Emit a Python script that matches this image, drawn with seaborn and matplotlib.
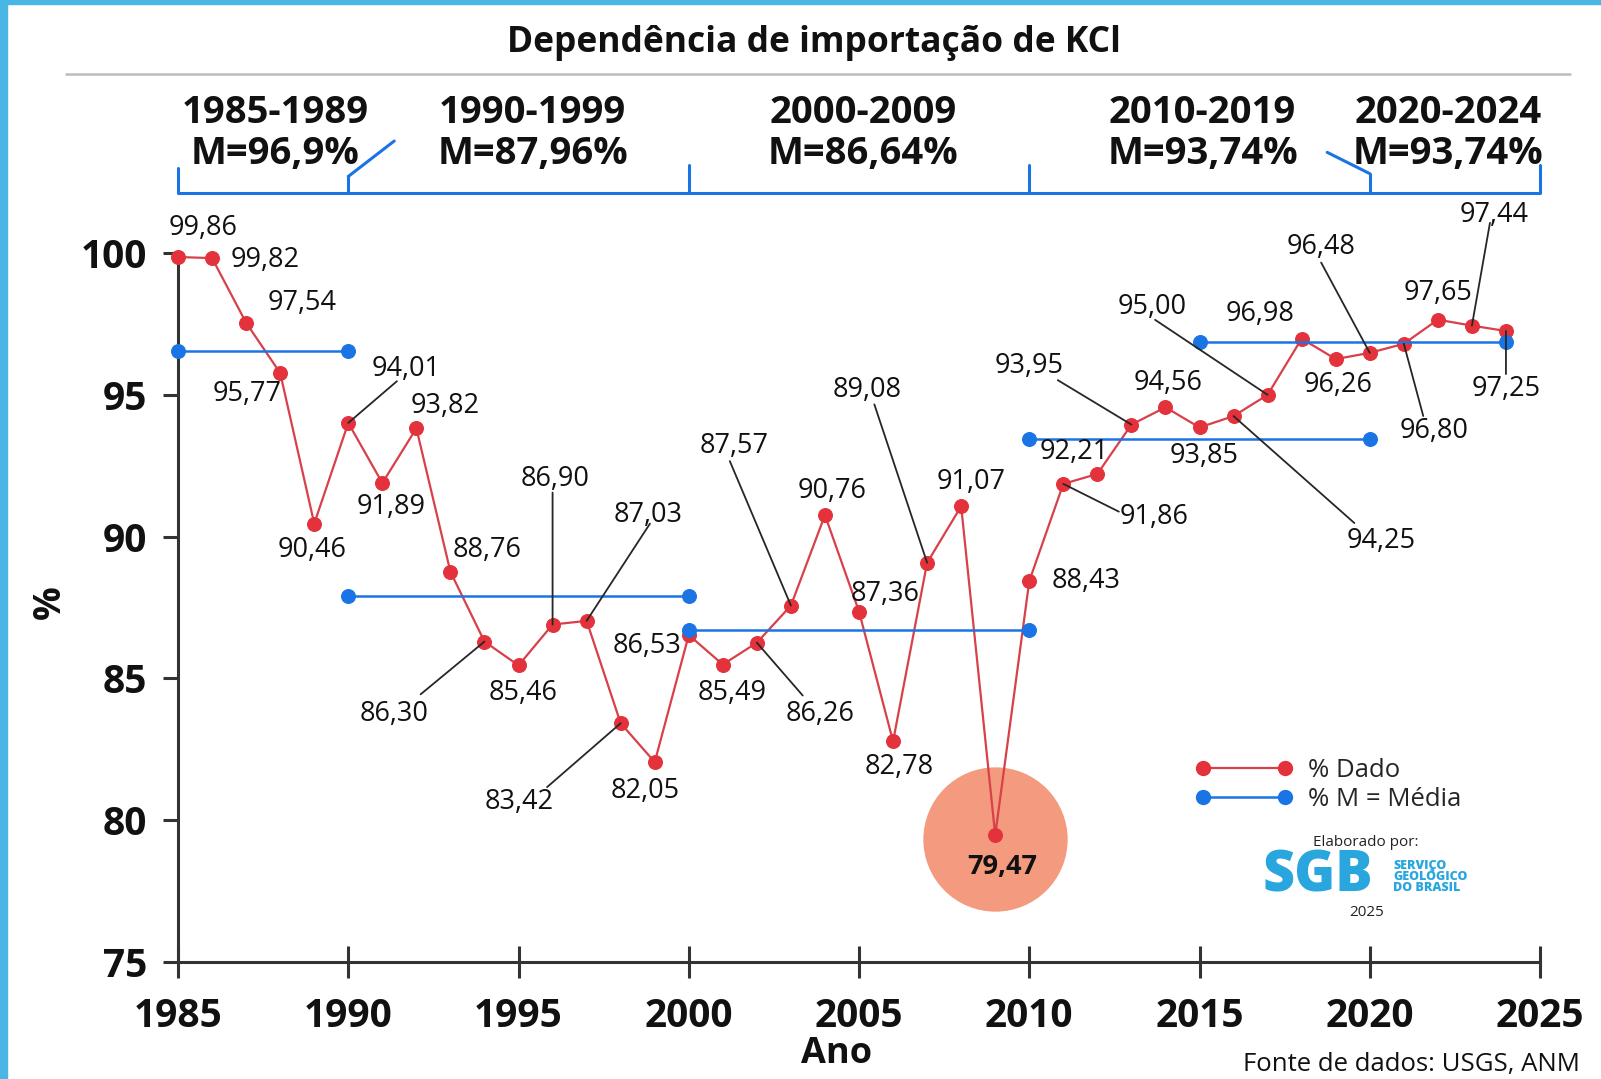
import matplotlib
matplotlib.use("Agg")
import matplotlib.pyplot as plt
from matplotlib.lines import Line2D
import seaborn as sns
import pandas as pd

sns.set_theme(style="white")
plt.rcParams['font.family'] = ['Open Sans', 'DejaVu Sans']

# dados
anos = list(range(1985, 2025))
valores = [99.86, 99.82, 97.54, 95.77, 90.46, 94.01, 91.89, 93.82, 88.76, 86.30,
           85.46, 86.90, 87.03, 83.42, 82.05, 86.53, 85.49, 86.26, 87.57, 90.76,
           87.36, 82.78, 89.08, 91.07, 79.47, 88.43, 91.86, 92.21, 93.95, 94.56,
           93.85, 94.25, 95.00, 96.98, 96.26, 96.48, 96.80, 97.65, 97.44, 97.25]

media_inicio = [1985, 1990, 2000, 2010, 2015]
media_fim = [1990, 2000, 2010, 2020, 2024]
media_valor = [96.55, 87.9, 86.7, 93.45, 96.88]

periodos = ['1985-1989', '1990-1999', '2000-2009', '2010-2019', '2020-2024']
periodos_m = ['M=96,9%', 'M=87,96%', 'M=86,64%', 'M=93,74%', 'M=93,74%']
limites = [1985, 1990, 2000, 2010, 2020, 2025]
desloc = [0.36, 0.42, 0.12, 0.09, -0.21]

destaque_ano = 2009

# posicao dos rotulos (offset em pontos) e fim da linha guia
rot_off = [(18, 21), (38, -1), (40, 14), (-24, -15), (-1.5, -19), (42, 39), (6, -17),
           (20.6, 16), (26.5, 15.4), (-65, -52), (3, -20), (2, 105), (44, 76),
           (-73, -57), (-6.6, -20.6), (-30, -8), (6.6, -20.6), (45.6, -51.5),
           (-41, 115), (5, 17.6), (19, 12.5), (4.4, -18.4), (-43, 124), (7.4, 17.6),
           (5, -23), (41, 0), (65, -23.5), (-17, 16), (-73.5, 42), (2, 17.6),
           (3, -20.6), (106, -90), (-83, 63), (-30, 17.6), (1.5, -18.4), (-35, 76),
           (22, -63), (0, 19), (16, 80), (0, -42)]
guia = {1990: (35, 30), 1994: (-46, -38), 1996: (0, 95), 1997: (45.6, 70),
        1998: (-53, -46), 2002: (33, -38), 2003: (-44, 104), 2007: (-38, 114),
        2011: (40, -20), 2013: (-53, 32), 2016: (87, -77), 2017: (-81, 54),
        2020: (-35, 65), 2021: (14, -52), 2023: (13, 74), 2024: (0, -31)}

vermelho = '#e3323b'
azul = '#1a74e4'
salmao = '#f49a7f'
preto = '#262626'

fig = plt.figure(figsize=(16.01, 10.79), dpi=100)
fig.patch.set_facecolor('white')
ax = fig.add_axes([0.1112, 0.1084, 0.8507, 0.6571])

# moldura azul
fig.patches.append(plt.Rectangle((0, 0), 0.0045, 1, transform=fig.transFigure,
                                 color='#4ab6e6', zorder=0))
fig.patches.append(plt.Rectangle((0, 0.9965), 1, 0.0035, transform=fig.transFigure,
                                 color='#4ab6e6', zorder=0))

# circulo de destaque
i_d = anos.index(destaque_ano)
ax.scatter([destaque_ano], [valores[i_d] - 0.13], s=10800, color=salmao,
           zorder=1, clip_on=False, linewidths=0)

sns.lineplot(x=anos, y=valores, ax=ax, color='#d8404a', lw=1.6, marker='o',
             markersize=10, markerfacecolor=vermelho, markeredgecolor=vermelho,
             zorder=3, clip_on=False)

df_media = pd.DataFrame({
    'ano': media_inicio + media_fim,
    'media': media_valor + media_valor,
    'periodo': list(range(5)) + list(range(5)),
})
sns.lineplot(data=df_media, x='ano', y='media', units='periodo', estimator=None,
             ax=ax, color=azul, lw=1.8, marker='o', markersize=10,
             markeredgecolor=azul, markerfacecolor=azul, zorder=4, clip_on=False)

# rotulos
for ano, v, (dx, dy) in zip(anos, valores, rot_off):
    txt = f"{v:.2f}".replace('.', ',')
    bold = ano == destaque_ano
    ax.annotate(txt, (ano, v), xytext=(dx, dy), textcoords='offset points',
                ha='center', va='center', fontsize=19.5, color='#111111',
                fontweight='bold' if bold else 'normal', zorder=6,
                annotation_clip=False)
    if ano in guia:
        ax.annotate('', (ano, v), xytext=guia[ano], textcoords='offset points',
                    arrowprops=dict(arrowstyle='-', color=preto, lw=1.3,
                                    shrinkA=0, shrinkB=0),
                    zorder=5, annotation_clip=False)

ax.set_xlim(1985, 2025)
ax.set_ylim(75, 100)
ax.set_xticks(range(1985, 2026, 5))
ax.set_yticks(range(75, 101, 5))
for s in ['top', 'right']:
    ax.spines[s].set_visible(False)
for s in ['left', 'bottom']:
    ax.spines[s].set_color('#333333')
    ax.spines[s].set_linewidth(2.2)
ax.tick_params(axis='x', direction='inout', length=23, width=2.2, color='#333333',
               labelsize=28, pad=14, bottom=True)
ax.tick_params(axis='y', direction='out', length=11, width=2.2, color='#333333',
               labelsize=28, pad=11, left=True)
for lb in ax.get_xticklabels() + ax.get_yticklabels():
    lb.set_fontweight('bold')
    lb.set_color('#111111')
ax.set_xlabel('')
ax.set_ylabel('')
ax.grid(False)

fig.text(837 / 1601, 1 - 1054 / 1079, 'Ano', ha='center', va='center',
         fontsize=26, fontweight='bold', color='#111111')
fig.text(50 / 1601, 1 - 602 / 1079, '%', ha='center', va='center', rotation=90,
         fontsize=27, fontweight='bold', color='#111111')

# colchete dos periodos
base = 102.1
alturas = [103.0, 102.7, 103.1, 103.1, 102.8, 103.1]
ax.plot([limites[0], limites[-1]], [base, base], color=azul, lw=2.2, clip_on=False,
        solid_capstyle='butt')
for x, h in zip(limites, alturas):
    ax.plot([x, x], [base, h], color=azul, lw=2.2, clip_on=False)
ax.plot([1990, 1991.35], [102.7, 103.95], color=azul, lw=2.2, clip_on=False)
ax.plot([2020, 2018.75], [102.8, 103.55], color=azul, lw=2.2, clip_on=False)
for k in range(5):
    xm = (limites[k] + limites[k + 1]) / 2 + desloc[k]
    ax.text(xm, 104.95, periodos[k], ha='center', va='center', fontsize=27.5,
            fontweight='bold', color='#111111', clip_on=False)
    ax.text(xm, 103.5, periodos_m[k], ha='center', va='center', fontsize=27.5,
            fontweight='bold', color='#111111', clip_on=False)

# titulo
fig.text(814 / 1601, 1 - 43 / 1079, 'Dependência de importação de KCl', ha='center',
         va='center', fontsize=25.5, fontweight='bold', color='#111111')
fig.add_artist(Line2D([66 / 1601, 1570 / 1601], [1 - 73.5 / 1079, 1 - 73.5 / 1079],
                      transform=fig.transFigure, color='#bdbdbd', lw=1.8))

# legenda
handles = [Line2D([], [], color='#d8404a', lw=1.6, marker='o', markersize=10,
                  markerfacecolor=vermelho, markeredgecolor=vermelho),
           Line2D([], [], color=azul, lw=1.8, marker='o', markersize=10,
                  markerfacecolor=azul, markeredgecolor=azul)]
ax.legend(handles, ['% Dado', '% M = Média'], numpoints=2, frameon=False,
          loc='upper left', bbox_to_anchor=(0.73, 0.32), fontsize=18.5,
          handlelength=3.8, handletextpad=0.6, labelspacing=0.15)

# logo / creditos
fig.text(1366 / 1601, 1 - 842 / 1079, 'Elaborado por:', ha='center', va='center',
         fontsize=11, color='#222222')
fig.text(1318 / 1601, 1 - 877 / 1079, 'SGB', ha='center', va='center', fontsize=40,
         fontweight='heavy', color='#2aa6df')
fig.text(1393 / 1601, 1 - 877 / 1079, 'SERVIÇO\nGEOLÓGICO\nDO BRASIL', ha='left',
         va='center', fontsize=9, fontweight='heavy', color='#2aa6df', linespacing=0.9)
fig.text(1367 / 1601, 1 - 913 / 1079, '2025', ha='center', va='center',
         fontsize=11, color='#222222')
fig.text(1580 / 1601, 1 - 1065 / 1079, 'Fonte de dados: USGS, ANM', ha='right',
         va='center', fontsize=18.5, color='#111111')

fig.savefig('out.png', dpi=100)
